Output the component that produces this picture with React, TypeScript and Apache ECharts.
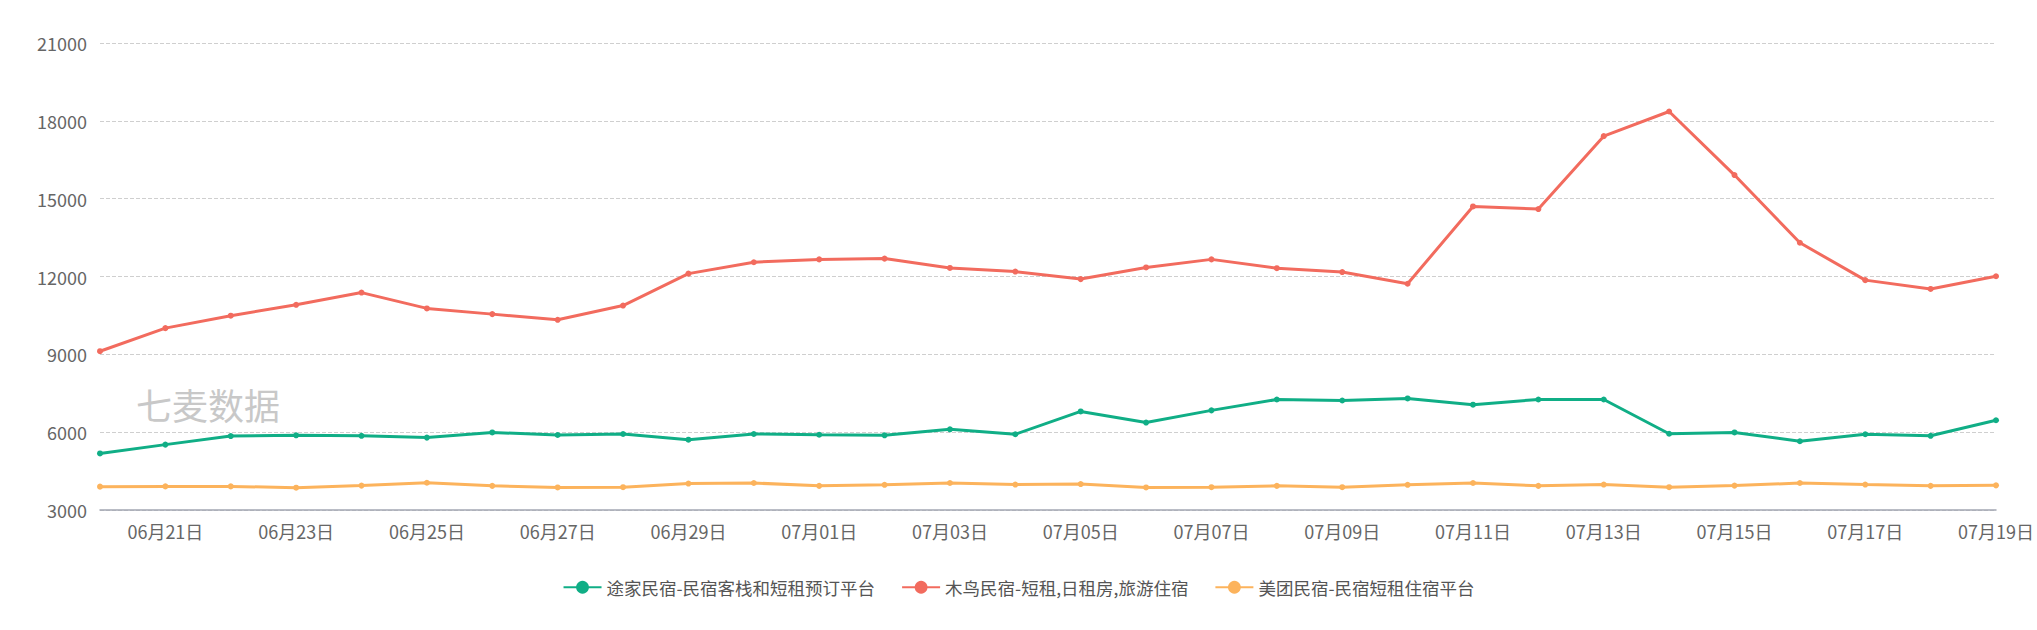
import React, { useEffect, useRef } from "react";
import * as echarts from "echarts";

const categories = [
  "06月20日", "06月21日", "06月22日", "06月23日", "06月24日", "06月25日", "06月26日", "06月27日", "06月28日", "06月29日",
  "06月30日", "07月01日", "07月02日", "07月03日", "07月04日", "07月05日", "07月06日", "07月07日", "07月08日", "07月09日",
  "07月10日", "07月11日", "07月12日", "07月13日", "07月14日", "07月15日", "07月16日", "07月17日", "07月18日", "07月19日",
];

const tujia = [
  5180, 5520, 5850, 5880, 5860, 5790, 5990, 5890, 5930, 5710,
  5930, 5900, 5880, 6110, 5920, 6800, 6370, 6840, 7260, 7220,
  7300, 7060, 7260, 7260, 5940, 5990, 5650, 5920, 5860, 6460,
];

const muniao = [
  9120, 10010, 10490, 10910, 11380, 10770, 10550, 10330, 10880, 12110,
  12550, 12660, 12690, 12330, 12190, 11900, 12350, 12660, 12320, 12170,
  11720, 14700, 14600, 17410, 18360, 15910, 13300, 11860, 11520, 12010,
];

const meituan = [
  3900, 3910, 3910, 3860, 3940, 4050, 3930, 3870, 3880, 4020,
  4040, 3930, 3970, 4040, 3980, 4000, 3870, 3880, 3930, 3880,
  3970, 4040, 3930, 3980, 3880, 3940, 4040, 3980, 3930, 3950,
];

const seriesNames = [
  "途家民宿-民宿客栈和短租预订平台",
  "木鸟民宿-短租,日租房,旅游住宿",
  "美团民宿-民宿短租住宿平台",
];

const colors = ["#10ae86", "#f26b5e", "#fcb35c"];

const FONT = "'Noto Sans CJK SC', 'Noto Sans', sans-serif";

export default function App() {
  const ref = useRef<HTMLDivElement>(null);

  useEffect(() => {
    if (!ref.current) return;
    const chart = echarts.init(ref.current, null, { renderer: "svg" });
    const mk = (name: string, data: number[], color: string) => ({
      name,
      type: "line",
      data,
      symbol: "circle",
      symbolSize: 6,
      showSymbol: true,
      lineStyle: { width: 3, color },
      itemStyle: { color },
    });
    chart.setOption({
      animation: false,
      color: colors,
      textStyle: { fontFamily: FONT },
      grid: { left: 100, right: 32, top: 43, bottom: 120, containLabel: false },
      legend: {
        bottom: 29,
        left: "center",
        itemWidth: 38,
        itemHeight: 16,
        itemGap: 26,
        textStyle: { fontSize: 17.5, color: "#555", fontFamily: FONT },
        data: seriesNames,
      },
      graphic: [
        {
          type: "text",
          left: 136,
          top: 386,
          silent: true,
          style: {
            text: "七麦数据",
            fontSize: 36,
            fill: "#c8c8c8",
            fontFamily: FONT,
          },
        },
      ],
      xAxis: {
        type: "category",
        data: categories,
        boundaryGap: false,
        axisLine: { lineStyle: { color: "#a3a7b3", width: 1.5 } },
        axisTick: { show: false },
        axisLabel: {
          interval: (i: number) => i % 2 === 1,
          color: "#666",
          fontSize: 18,
          margin: 12,
          fontFamily: FONT,
        },
        splitLine: { show: false },
      },
      yAxis: {
        type: "value",
        min: 3000,
        max: 21000,
        interval: 3000,
        axisLine: { show: false },
        axisTick: { show: false },
        axisLabel: {
          color: "#666",
          fontSize: 18,
          margin: 13,
          fontFamily: FONT,
          formatter: (v: number) => String(v),
        },
        splitLine: { lineStyle: { type: "dashed", color: "#cfcfcf", width: 1 } },
      },
      series: [
        mk(seriesNames[0], tujia, colors[0]),
        mk(seriesNames[1], muniao, colors[1]),
        mk(seriesNames[2], meituan, colors[2]),
      ],
    });
    return () => chart.dispose();
  }, []);

  return (
    <div
      ref={ref}
      style={{ position: "fixed", left: 0, top: 0, width: 2037, height: 630, background: "#fff" }}
    />
  );
}
